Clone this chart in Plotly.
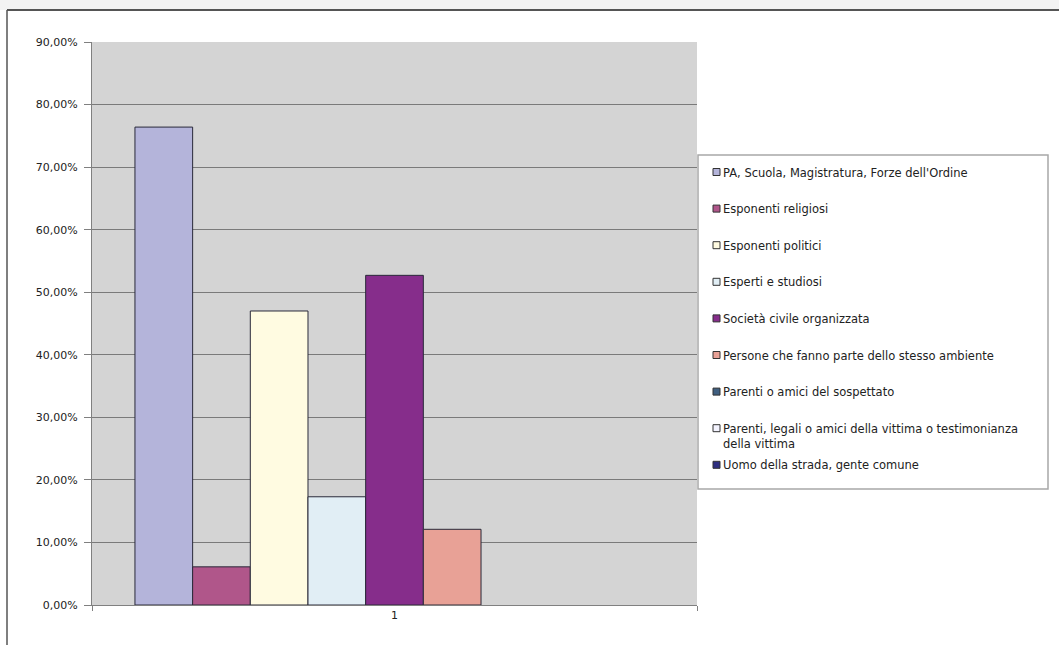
import plotly.graph_objects as go

categories = ["1"]
series_names = [
    "PA, Scuola, Magistratura, Forze dell'Ordine",
    "Esponenti religiosi",
    "Esponenti politici",
    "Esperti e studiosi",
    "Società civile organizzata",
    "Persone che fanno parte dello stesso ambiente",
    "Parenti o amici del sospettato",
    "Parenti, legali o amici della vittima o testimonianza<br>della vittima",
    "Uomo della strada, gente comune",
]
series_values = [0.764, 0.061, 0.470, 0.173, 0.527, 0.121, 0.0, 0.0, 0.0]
series_colors = ["#B4B4DA", "#B0568A", "#FFFBE1", "#E1EEF5", "#862D8B",
                 "#E8A196", "#3F5F80", "#F4F4FF", "#2E2E80"]
tick_vals = [0, 0.1, 0.2, 0.3, 0.4, 0.5, 0.6, 0.7, 0.8, 0.9]
tick_text = ["0,00%", "10,00%", "20,00%", "30,00%", "40,00%", "50,00%",
             "60,00%", "70,00%", "80,00%", "90,00%"]

FONT = "DejaVu Sans, Liberation Sans, Arial, sans-serif"

fig = go.Figure()
for name, val, col in zip(series_names, series_values, series_colors):
    fig.add_trace(go.Bar(
        x=categories, y=[val], name=name.replace("<br>", " "),
        marker=dict(color=col,
                    line=dict(color="#2A2A3A", width=1 if val > 0 else 0)),
        hoverinfo="name+y",
        showlegend=False,
    ))

W, H = 1059, 645
L, R, T, B = 92, 362, 42, 40
pw, ph = W - L - R, H - T - B


def px(x):
    return (x - L) / pw


def py(y):
    return (H - B - y) / ph


shapes = [
    # light band above the frame
    dict(type="rect", xref="paper", yref="paper",
         x0=px(0), x1=px(W), y0=py(10), y1=py(0),
         fillcolor="#F3F3F3", line=dict(width=0), layer="below"),
    # frame: top line
    dict(type="line", xref="paper", yref="paper",
         x0=px(7), x1=px(W), y0=py(10), y1=py(10),
         line=dict(color="#555555", width=2)),
    # frame: left line
    dict(type="line", xref="paper", yref="paper",
         x0=px(7), x1=px(7), y0=py(10), y1=py(H),
         line=dict(color="#555555", width=1.5)),
    # legend box
    dict(type="rect", xref="paper", yref="paper",
         x0=px(698), x1=px(1048), y0=py(489), y1=py(155),
         fillcolor="white", line=dict(color="#A8A8A8", width=1.5)),
]

annotations = []
y0_leg, step = 172, 36.6
for i, (name, col) in enumerate(zip(series_names, series_colors)):
    yc = y0_leg + step * i
    shapes.append(dict(type="rect", xref="paper", yref="paper",
                       x0=px(713), x1=px(720), y0=py(yc + 3.5), y1=py(yc - 3.5),
                       fillcolor=col, line=dict(color="#333333", width=1)))
    annotations.append(dict(
        xref="paper", yref="paper", x=px(721), y=py(yc - 8.5),
        xanchor="left", yanchor="top", align="left", showarrow=False,
        text=name, font=dict(family=FONT, size=11.5, color="#222222"),
    ))

fig.update_layout(
    width=W, height=H,
    margin=dict(l=L, r=R, t=T, b=B, pad=0),
    paper_bgcolor="white",
    plot_bgcolor="#D4D4D4",
    barmode="group",
    bargap=0.142,
    bargroupgap=0,
    font=dict(family=FONT, size=12, color="#222222"),
    showlegend=False,
    xaxis=dict(
        type="category",
        showgrid=False,
        showline=True, linecolor="#808080", linewidth=1,
        ticks="outside", tickson="boundaries", ticklen=5, tickcolor="#808080",
        tickfont=dict(family=FONT, size=11, color="#222222"),
    ),
    yaxis=dict(
        range=[0, 0.9],
        tickvals=tick_vals, ticktext=tick_text,
        showgrid=True, gridcolor="#7A7A7A", gridwidth=1,
        showline=True, linecolor="#808080", linewidth=1,
        ticks="outside", ticklen=7, tickcolor="#808080",
        ticklabelstandoff=4,
        tickfont=dict(family=FONT, size=11, color="#222222"),
        zeroline=False,
    ),
    shapes=shapes,
    annotations=annotations,
)

fig.write_html("out.html", config={"displayModeBar": False},
               post_script="document.body.style.margin='0px';")
